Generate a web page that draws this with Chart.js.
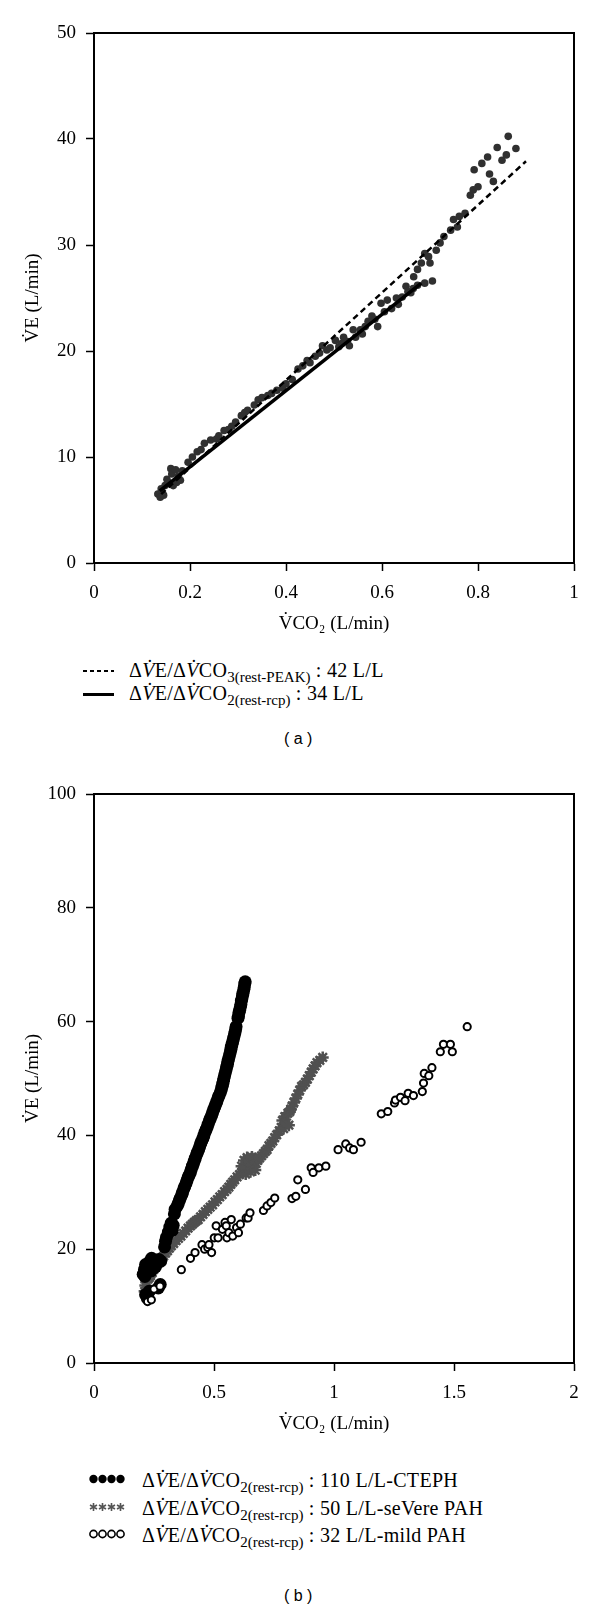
<!DOCTYPE html>
<html>
<head>
<meta charset="utf-8">
<script src="https://cdn.jsdelivr.net/npm/chart.js@4.4.1/dist/chart.umd.min.js"></script>
<style>
  body { margin: 0; background: #fff; }
  #page { position: relative; width: 600px; height: 1604px; font-family: "Liberation Serif", "Times New Roman", serif; color: #000; }
  canvas { position: absolute; left: 0; }
  .row { position: absolute; font-size: 20px; letter-spacing: 0.3px; line-height: 22px; white-space: nowrap; }
  .row sub { font-size: 15px; letter-spacing: 0; vertical-align: -5px; line-height: 0; }
  .mark { position: absolute; }
  .dash { width: 31px; height: 2px; background: repeating-linear-gradient(to right, #000 0 4px, transparent 4px 7px); }
  .solid { width: 31px; height: 3px; background: #000; }
  .cap { position: absolute; font-family: "Liberation Sans", Arial, sans-serif; font-size: 16px; }
</style>
</head>
<body>
<div id="page">
  <canvas id="chartA" width="600" height="640" style="top:0"></canvas>

  <div class="mark dash" style="left:83px; top:670px"></div>
  <div class="row" style="left:129px; top:659px">Δ<i>V&#775;</i>E/Δ<i>V&#775;</i>CO<sub>3(rest-PEAK)</sub> : 42 L/L</div>
  <div class="mark solid" style="left:83px; top:693px"></div>
  <div class="row" style="left:129px; top:682px">Δ<i>V&#775;</i>E/Δ<i>V&#775;</i>CO<sub>2(rest-rcp)</sub> : 34 L/L</div>
  <div class="cap" style="left:284px; top:730px">( a )</div>

  <canvas id="chartB" width="600" height="680" style="top:760px"></canvas>

  <svg class="mark" style="left:89px; top:1474px" width="36" height="10">
    <circle cx="4.5" cy="5" r="4.2" fill="#000"/><circle cx="13.5" cy="5" r="4.2" fill="#000"/>
    <circle cx="22.5" cy="5" r="4.2" fill="#000"/><circle cx="31.5" cy="5" r="4.2" fill="#000"/>
  </svg>
  <div class="row" style="left:142px; top:1469px">Δ<i>V&#775;</i>E/Δ<i>V&#775;</i>CO<sub>2(rest-rcp)</sub> : 110 L/L-CTEPH</div>
  <svg class="mark" style="left:89px; top:1502px" width="36" height="10" stroke="#555" stroke-width="1.6">
    <path d="M4.5 1v8M1 3l7 4M1 7l7-4"/><path d="M13.5 1v8M10 3l7 4M10 7l7-4"/>
    <path d="M22.5 1v8M19 3l7 4M19 7l7-4"/><path d="M31.5 1v8M28 3l7 4M28 7l7-4"/>
  </svg>
  <div class="row" style="left:142px; top:1497px">Δ<i>V&#775;</i>E/Δ<i>V&#775;</i>CO<sub>2(rest-rcp)</sub> : 50 L/L-seVere PAH</div>
  <svg class="mark" style="left:89px; top:1529px" width="36" height="10" fill="#fff" stroke="#000" stroke-width="1.6">
    <circle cx="4.5" cy="5" r="3.6"/><circle cx="13.5" cy="5" r="3.6"/>
    <circle cx="22.5" cy="5" r="3.6"/><circle cx="31.5" cy="5" r="3.6"/>
  </svg>
  <div class="row" style="left:142px; top:1524px">Δ<i>V&#775;</i>E/Δ<i>V&#775;</i>CO<sub>2(rest-rcp)</sub> : 32 L/L-mild PAH</div>
  <div class="cap" style="left:284px; top:1587px">( b )</div>
</div>

<script>
// ---- data (a): VE vs VCO2, single subject ----
const xTicksA = [0, 0.2, 0.4, 0.6, 0.8, 1];
const yTicksA = [0, 10, 20, 30, 40, 50];

const pointsA = [
  [0.133, 6.5], [0.138, 6.2], [0.14, 7.0], [0.145, 6.4], [0.148, 7.3], [0.152, 7.9], [0.155, 7.6],
  [0.16, 8.9], [0.162, 8.4], [0.165, 7.3], [0.17, 8.8], [0.172, 7.6], [0.176, 8.2], [0.18, 7.8],
  [0.184, 8.7], [0.196, 9.5], [0.205, 10.0], [0.215, 10.5], [0.223, 10.7], [0.23, 11.3], [0.243, 11.6],
  [0.255, 11.7], [0.26, 12.0], [0.271, 12.5], [0.28, 12.6], [0.287, 12.9], [0.295, 13.3], [0.307, 13.9],
  [0.314, 14.2], [0.32, 14.4], [0.334, 14.9], [0.342, 15.4], [0.35, 15.6], [0.362, 15.8], [0.37, 16.0],
  [0.381, 16.3], [0.393, 16.5], [0.4, 16.9], [0.413, 17.3], [0.425, 18.3], [0.435, 18.6], [0.444, 19.1],
  [0.45, 18.9], [0.461, 19.5], [0.47, 19.8], [0.476, 20.5], [0.485, 20.1], [0.492, 20.3], [0.503, 21.0],
  [0.51, 20.4], [0.516, 20.7], [0.52, 21.3], [0.528, 20.9], [0.532, 20.5], [0.54, 22.0], [0.545, 21.3],
  [0.555, 22.0], [0.559, 21.6], [0.565, 22.3], [0.571, 22.8], [0.579, 23.3], [0.585, 23.0], [0.591, 22.3],
  [0.598, 24.5], [0.605, 23.7], [0.611, 24.8], [0.62, 24.0], [0.63, 25.0], [0.634, 24.4], [0.642, 25.1],
  [0.65, 26.1], [0.654, 25.6], [0.66, 25.5], [0.665, 25.9], [0.666, 27.0], [0.674, 26.2], [0.674, 27.7],
  [0.682, 28.3], [0.689, 26.4], [0.689, 29.2], [0.697, 28.9], [0.7, 28.3], [0.705, 26.6], [0.713, 29.5],
  [0.721, 30.2], [0.729, 30.8], [0.743, 31.4], [0.749, 32.4], [0.757, 31.7], [0.761, 32.7], [0.773, 33.0],
  [0.784, 34.7], [0.79, 35.2], [0.8, 35.5], [0.792, 37.1], [0.808, 37.7], [0.82, 38.3], [0.824, 36.7],
  [0.832, 36.0], [0.84, 39.2], [0.85, 38.0], [0.859, 38.5], [0.863, 40.25], [0.879, 39.1]
];
// slope lines (rest-PEAK dashed, rest-rcp solid)
const peakLine = [[0.14, 6.5], [0.9, 37.9]];
const rcpLine = [[0.137, 6.8], [0.682, 26.4]];

// ---- data (b): three patients ----
const xTicksB = [0, 0.5, 1, 1.5, 2];
const yTicksB = [0, 20, 40, 60, 80, 100];

const ctephPoints = [
  [0.215, 12.0], [0.222, 11.4], [0.23, 12.6], [0.268, 13.2], [0.276, 13.8],
  [0.205, 15.6], [0.21, 16.4], [0.212, 15.2], [0.215, 17.3], [0.22, 15.9], [0.228, 16.8], [0.232, 17.8],
  [0.238, 16.2], [0.24, 18.4], [0.245, 17.4], [0.25, 18.1], [0.256, 16.9], [0.262, 17.6], [0.27, 18.2],
  [0.278, 17.9], [0.294, 20.4], [0.298, 21.4], [0.302, 22.1],
  [0.31, 23.0], [0.316, 23.9], [0.322, 24.6], [0.33, 24.2], [0.326, 23.3],
  [0.335, 26.2], [0.338, 27.0], [0.347, 27.6], [0.351, 28.0], [0.356, 28.6], [0.36, 29.0], [0.366, 29.6],
  [0.369, 30.0], [0.374, 30.6], [0.378, 31.0], [0.383, 31.5], [0.387, 32.0], [0.392, 32.6], [0.396, 33.0],
  [0.401, 33.4], [0.405, 34.0], [0.41, 34.6], [0.414, 35.0], [0.418, 35.5], [0.422, 36.0], [0.427, 36.6],
  [0.431, 37.0], [0.436, 37.5], [0.44, 38.0], [0.445, 38.6], [0.449, 39.0], [0.454, 39.5], [0.458, 40.0],
  [0.463, 40.6], [0.467, 41.0], [0.472, 41.5], [0.476, 42.0], [0.481, 42.6], [0.485, 43.0], [0.49, 43.5],
  [0.494, 44.0], [0.499, 44.6], [0.503, 45.0], [0.508, 45.5], [0.512, 46.0], [0.517, 46.6], [0.521, 47.0],
  [0.526, 47.5], [0.53, 48.0], [0.533, 48.5], [0.536, 49.0], [0.539, 49.5], [0.541, 50.0], [0.544, 50.5],
  [0.547, 51.0], [0.55, 51.5], [0.553, 52.0], [0.556, 52.5], [0.558, 53.0], [0.561, 53.5], [0.564, 54.0],
  [0.567, 54.5], [0.57, 55.0], [0.572, 55.5], [0.575, 56.0], [0.578, 56.5], [0.581, 57.0], [0.584, 57.5],
  [0.587, 58.0], [0.59, 58.6], [0.592, 59.1],
  [0.6, 60.6], [0.602, 61.0], [0.604, 61.6], [0.607, 62.0], [0.61, 62.6], [0.612, 63.0], [0.614, 63.6],
  [0.616, 64.0], [0.619, 64.6], [0.621, 65.0], [0.624, 65.6], [0.626, 66.0], [0.628, 66.6], [0.63, 67.0]
];

const severePoints = [
  [0.211, 12.6], [0.214, 13.6], [0.218, 14.2], [0.224, 14.8], [0.23, 15.0], [0.235, 15.3], [0.242, 15.9],
  [0.248, 16.4], [0.254, 16.8], [0.259, 17.1], [0.266, 17.5], [0.274, 17.9], [0.282, 18.4], [0.29, 18.8],
  [0.298, 19.3], [0.306, 19.7], [0.314, 20.2], [0.322, 20.6], [0.332, 21.0], [0.342, 21.5], [0.352, 21.9],
  [0.362, 22.3], [0.372, 22.8], [0.382, 23.2], [0.392, 23.7], [0.402, 24.1], [0.41, 24.4], [0.418, 24.7],
  [0.426, 25.0], [0.434, 25.2], [0.444, 25.7], [0.454, 26.1], [0.464, 26.6], [0.474, 27.0], [0.484, 27.4],
  [0.494, 27.8], [0.504, 28.3], [0.514, 28.7], [0.524, 29.2], [0.534, 29.6], [0.544, 30.1], [0.554, 30.5],
  [0.562, 30.9], [0.57, 31.4], [0.578, 31.8], [0.586, 32.2], [0.596, 32.7], [0.606, 33.1], [0.616, 33.6],
  [0.626, 34.0], [0.615, 34.6], [0.625, 35.6], [0.632, 33.2], [0.638, 36.1], [0.642, 34.3], [0.648, 35.4],
  [0.652, 33.6], [0.658, 36.2], [0.662, 34.8], [0.668, 35.9], [0.672, 33.9], [0.676, 35.1], [0.682, 35.6],
  [0.69, 36.0], [0.698, 36.4], [0.706, 36.8], [0.714, 37.2], [0.721, 37.5], [0.729, 38.2], [0.737, 38.6],
  [0.745, 39.0], [0.753, 39.6], [0.761, 40.1], [0.772, 40.8], [0.78, 41.4], [0.79, 41.2], [0.785, 42.6],
  [0.795, 43.3], [0.802, 42.2], [0.808, 43.9], [0.812, 41.8], [0.816, 44.2], [0.82, 44.6], [0.825, 45.1],
  [0.833, 45.8], [0.841, 46.5], [0.849, 47.2], [0.857, 47.9], [0.865, 48.6], [0.873, 48.9], [0.881, 49.3],
  [0.889, 49.9], [0.897, 50.5], [0.905, 51.1], [0.913, 51.7], [0.921, 52.2], [0.929, 52.8], [0.941, 53.2],
  [0.953, 53.7]
];

const mildPoints = [
  [0.223, 10.8], [0.239, 11.1], [0.25, 13.0], [0.275, 13.5], [0.364, 16.4], [0.402, 18.4], [0.421, 19.4],
  [0.45, 20.8], [0.461, 20.0], [0.474, 20.3], [0.479, 20.8], [0.49, 19.4], [0.501, 22.0], [0.509, 24.1],
  [0.517, 22.0], [0.535, 23.5], [0.546, 24.7], [0.551, 24.1], [0.554, 22.0], [0.562, 22.9], [0.572, 25.2],
  [0.578, 22.3], [0.594, 23.8], [0.602, 22.9], [0.61, 24.4], [0.634, 25.5], [0.642, 25.5], [0.65, 26.4],
  [0.706, 26.8], [0.721, 27.6], [0.737, 28.2], [0.753, 29.0], [0.825, 28.9], [0.841, 29.3], [0.849, 32.2],
  [0.881, 30.5], [0.905, 34.3], [0.913, 33.5], [0.937, 34.3], [0.966, 34.6], [1.017, 37.5], [1.049, 38.5],
  [1.065, 37.8], [1.081, 37.5], [1.113, 38.8], [1.197, 43.8], [1.224, 44.2], [1.252, 45.7], [1.256, 46.2],
  [1.277, 46.7], [1.296, 46.1], [1.309, 47.4], [1.331, 47.0], [1.368, 47.7], [1.373, 49.2], [1.376, 50.9],
  [1.395, 50.5], [1.408, 51.9], [1.443, 54.7], [1.456, 56.0], [1.485, 56.0], [1.493, 54.7], [1.555, 59.1]
];

const serif = '"Liberation Serif", "Times New Roman", serif';

// turn [x, y] pairs into chart points
function toXY(list) {
  return list.map((p) => ({ x: p[0], y: p[1] }));
}

// box around the plot area
const framePlugin = {
  id: "frame",
  afterDraw(chart) {
    const { ctx, chartArea } = chart;
    ctx.save();
    ctx.strokeStyle = "#000";
    ctx.lineWidth = 2;
    ctx.strokeRect(chartArea.left, chartArea.top, chartArea.right - chartArea.left, chartArea.bottom - chartArea.top);
    ctx.restore();
  },
};

// one axis, ticks come from the tick list
function makeAxis(ticks, title, horizontal) {
  return {
    type: "linear",
    min: ticks[0],
    max: ticks[ticks.length - 1],
    afterBuildTicks: (axis) => {
      axis.ticks = ticks.map((v) => ({ value: v }));
    },
    afterFit: (axis) => {
      if (horizontal) axis.height = 77;
      else axis.width = 94;
    },
    ticks: {
      color: "#000",
      font: { family: serif, size: 19 },
      padding: horizontal ? 11 : 10,
      callback: (v) => String(Math.round(v * 10) / 10),
    },
    grid: {
      drawOnChartArea: false,
      drawTicks: true,
      tickLength: 8,
      tickColor: "#000",
      tickWidth: 1.5,
    },
    border: { color: "#000", width: 2 },
    title: {
      display: true,
      text: title,
      color: "#000",
      font: { family: serif, size: 19 },
      padding: horizontal ? { bottom: 5 } : { top: 22 },
    },
  };
}

function baseOptions(xTicks, yTicks, padTop) {
  return {
    responsive: false,
    animation: false,
    devicePixelRatio: 1,
    layout: { padding: { top: padTop, right: 26, left: 0, bottom: 0 } },
    plugins: { legend: { display: false }, tooltip: { enabled: false } },
    scales: {
      x: makeAxis(xTicks, "V\u0307CO\u2082 (L/min)", true),
      y: makeAxis(yTicks, "V\u0307E (L/min)", false),
    },
  };
}

// chart (a)
new Chart(document.getElementById("chartA"), {
  type: "scatter",
  data: {
    datasets: [
      {
        data: toXY(rcpLine),
        showLine: true,
        borderColor: "#000",
        borderWidth: 3.5,
        pointRadius: 0,
      },
      {
        data: toXY(peakLine),
        showLine: true,
        borderColor: "#000",
        borderWidth: 2.5,
        borderDash: [6, 4],
        pointRadius: 0,
      },
      {
        data: toXY(pointsA),
        backgroundColor: "#303030",
        borderWidth: 0,
        pointRadius: 3.8,
      },
    ],
  },
  options: baseOptions(xTicksA, yTicksA, 33),
  plugins: [framePlugin],
});

// chart (b)
new Chart(document.getElementById("chartB"), {
  type: "scatter",
  data: {
    datasets: [
      {
        data: toXY(mildPoints),
        backgroundColor: "#fff",
        borderColor: "#000",
        borderWidth: 2,
        pointRadius: 3.6,
      },
      {
        data: toXY(ctephPoints),
        backgroundColor: "#000",
        borderWidth: 0,
        pointRadius: 6.5,
      },
      {
        data: toXY(severePoints),
        pointStyle: "star",
        borderColor: "#505050",
        borderWidth: 2.5,
        pointRadius: 6,
      },
    ],
  },
  options: baseOptions(xTicksB, yTicksB, 34),
  plugins: [framePlugin],
});
</script>
</body>
</html>
